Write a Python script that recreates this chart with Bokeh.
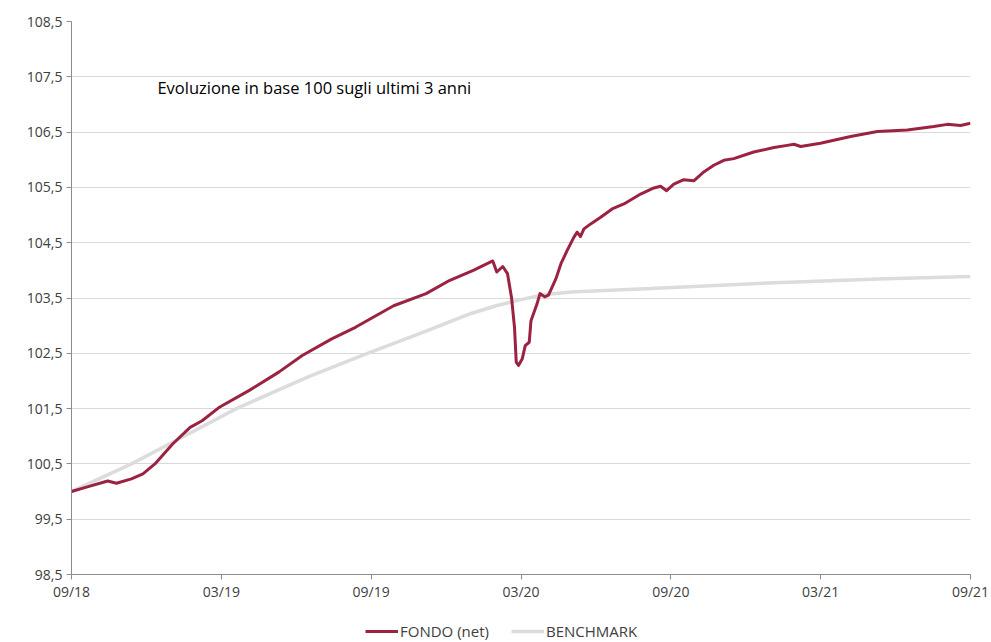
from bokeh.plotting import figure
from bokeh.layouts import column
from bokeh.models import ColumnDataSource, FixedTicker, Legend, LegendItem, Label, Range1d
from bokeh.embed import file_html
from bokeh.resources import INLINE

# months since 09/2018
fund_months = [0, 0.6, 1.45, 1.8, 2.4, 2.86, 3.34, 4.05, 4.75, 5.23, 5.94, 7.12, 8.3, 9.24,
               10.42, 11.37, 12.9, 14.2, 15.15, 16.09, 16.87, 17.03, 17.27, 17.46, 17.62,
               17.74, 17.81, 17.9, 18.05, 18.17, 18.33, 18.4, 18.64, 18.76, 18.95, 19.1,
               19.4, 19.6, 19.85, 20.12, 20.25, 20.38, 20.52, 20.79, 21.19, 21.65, 22.12,
               22.79, 23.32, 23.59, 23.83, 24.12, 24.52, 24.92, 25.32, 25.72, 26.12, 26.52,
               27.32, 28.13, 28.66, 28.93, 29.2, 29.99, 31.2, 32.27, 33.47, 34.53, 35.07,
               35.6, 36.0]
fund_values = [100.0, 100.08, 100.19, 100.15, 100.23, 100.32, 100.5, 100.86, 101.16, 101.28,
               101.53, 101.83, 102.16, 102.46, 102.76, 102.97, 103.36, 103.58, 103.82, 104.0,
               104.17, 103.97, 104.07, 103.94, 103.51, 102.97, 102.34, 102.28, 102.4, 102.64,
               102.7, 103.09, 103.39, 103.58, 103.52, 103.55, 103.85, 104.12, 104.36, 104.6,
               104.69, 104.61, 104.75, 104.84, 104.96, 105.11, 105.2, 105.38, 105.49, 105.52,
               105.44, 105.56, 105.64, 105.62, 105.78, 105.9, 105.99, 106.02, 106.14, 106.22,
               106.26, 106.28, 106.24, 106.3, 106.42, 106.51, 106.54, 106.6, 106.64, 106.62,
               106.66]

bench_months = [0, 2.4, 4.3, 6.6, 9.5, 11.8, 14.2, 16.0, 17.0, 18.0, 18.9, 20.0, 23.2, 27.9,
                32.6, 36.0]
bench_values = [100.0, 100.5, 100.95, 101.5, 102.08, 102.49, 102.9, 103.22, 103.36, 103.47,
                103.56, 103.61, 103.67, 103.77, 103.85, 103.89]

x_ticks = [0, 6, 12, 18, 24, 30, 36]
x_tick_labels = ["09/18", "03/19", "09/19", "03/20", "09/20", "03/21", "09/21"]
y_ticks = [98.5, 99.5, 100.5, 101.5, 102.5, 103.5, 104.5, 105.5, 106.5, 107.5, 108.5]
y_tick_labels = ["98,5", "99,5", "100,5", "101,5", "102,5", "103,5", "104,5", "105,5",
                 "106,5", "107,5", "108,5"]

title_text = "Evoluzione in base 100 sugli ultimi 3 anni"
title_pos = (3.44, 107.31)
series_names = ["FONDO (net)", "BENCHMARK"]

FONT = "Open Sans"
FUND_COLOR = "#9C2242"
BENCH_COLOR = "#DCDCDC"
TEXT_COLOR = "#404040"

p = figure(width=991, height=604, output_backend="svg", toolbar_location=None,
           x_range=Range1d(0, 36), y_range=Range1d(98.5, 108.5),
           min_border_left=71, min_border_right=21, min_border_top=21, min_border_bottom=30)
p.outline_line_color = None
p.background_fill_color = "white"
p.border_fill_color = "white"

p.xaxis.ticker = FixedTicker(ticks=x_ticks)
p.xaxis.major_label_overrides = {t: l for t, l in zip(x_ticks, x_tick_labels)}
p.yaxis.ticker = FixedTicker(ticks=y_ticks)
p.yaxis.major_label_overrides = {t: l for t, l in zip(y_ticks, y_tick_labels)}

for ax in (p.xaxis[0], p.yaxis[0]):
    ax.axis_line_color = "#8C8C8C"
    ax.axis_line_width = 1
    ax.major_tick_line_color = "#8C8C8C"
    ax.major_tick_in = 0
    ax.major_tick_out = 5
    ax.minor_tick_line_color = None
    ax.major_label_text_font = FONT
    ax.major_label_text_font_size = "14px"
    ax.major_label_text_color = TEXT_COLOR
p.xaxis.major_label_standoff = 2
p.yaxis.major_label_standoff = 4

p.xgrid.grid_line_color = None
p.ygrid.grid_line_color = "#D9D9D9"
p.ygrid.grid_line_width = 1

bench_src = ColumnDataSource(dict(x=bench_months, y=bench_values))
fund_src = ColumnDataSource(dict(x=fund_months, y=fund_values))
p.line("x", "y", source=bench_src, line_color=BENCH_COLOR, line_width=3.5)
p.line("x", "y", source=fund_src, line_color=FUND_COLOR, line_width=3, line_join="round")

p.add_layout(Label(x=title_pos[0], y=title_pos[1], text=title_text,
                   text_font=FONT, text_font_size="16.5px", text_color="black",
                   text_baseline="middle"))

# legend strip below the chart (series drawn out of its view, only legend swatches show)
lg = figure(width=991, height=38, output_backend="svg", toolbar_location=None,
            x_range=Range1d(-2, -1), y_range=Range1d(-2, -1),
            x_axis_type=None, y_axis_type=None, min_border=0)
lg.outline_line_color = None
lg.xgrid.visible = False
lg.ygrid.visible = False
d_fund = lg.line("x", "y", source=fund_src, line_color=FUND_COLOR, line_width=3)
d_bench = lg.line("x", "y", source=bench_src, line_color=BENCH_COLOR, line_width=3.5)
legend = Legend(items=[LegendItem(label=series_names[0], renderers=[d_fund]),
                       LegendItem(label=series_names[1], renderers=[d_bench])],
                orientation="horizontal", location=(294, 1),
                border_line_color=None, background_fill_alpha=0,
                label_text_font=FONT, label_text_font_size="15px",
                label_text_color=TEXT_COLOR, glyph_width=33, glyph_height=14,
                label_standoff=2, spacing=22, padding=0, margin=0)
lg.add_layout(legend, "center")

layout = column(p, lg, spacing=0)
open("out.html", "w").write(file_html(layout, INLINE))
